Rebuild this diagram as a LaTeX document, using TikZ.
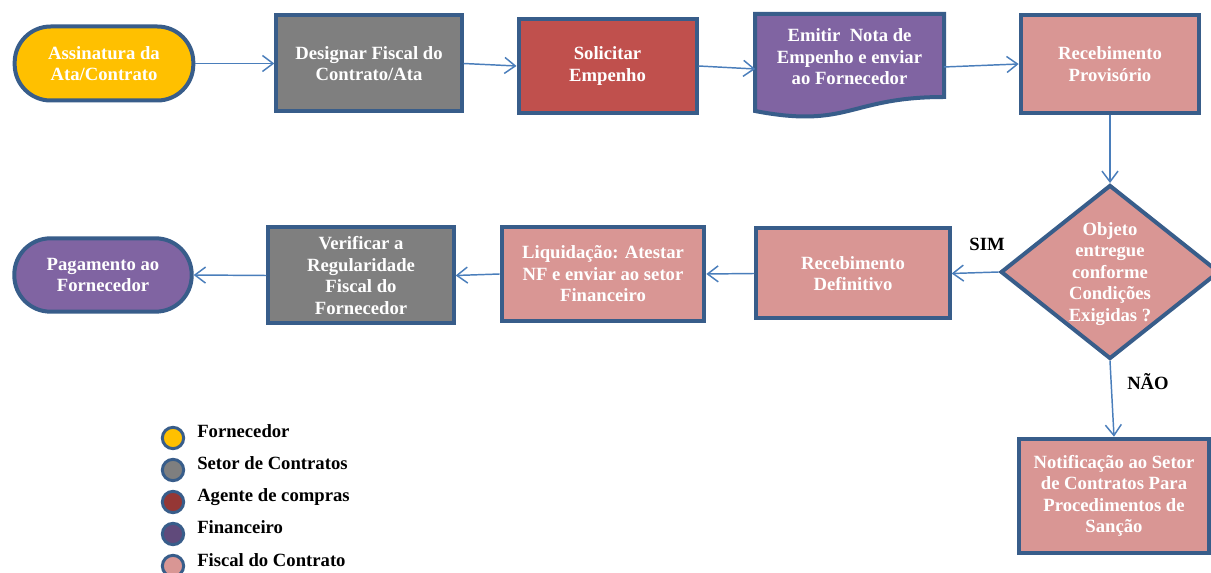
\documentclass[tikz,border=0pt]{standalone}
\usepackage{fontspec}
\setmainfont{Liberation Serif}
\usetikzlibrary{arrows.meta,shapes.geometric}
\definecolor{edgeblue}{HTML}{385D8A}
\definecolor{linkblue}{HTML}{4A7EBB}
\definecolor{cyellow}{HTML}{FFC000}
\definecolor{cgray}{HTML}{7F7F7F}
\definecolor{cred}{HTML}{C0504D}
\definecolor{cpurple}{HTML}{8064A2}
\definecolor{cpink}{HTML}{D99694}
\definecolor{cdarkred}{HTML}{953735}
\definecolor{cdarkpurple}{HTML}{604A7B}
\begin{document}
\begin{tikzpicture}[x=0.75pt,y=-0.75pt,
  every node/.style={font=\fontsize{14}{16.1}\selectfont\bfseries},
  box/.style={draw=edgeblue, line width=3pt, text=white, align=center, inner sep=0pt},
  stadium/.style={box, rounded corners=27pt},
  caption/.style={text=white, align=center, inner sep=0pt},
  link/.style={draw=linkblue, line width=1.1pt, -{Straight Barb[length=8pt,width=12pt]}},
  dot/.style={circle, draw=edgeblue, line width=2.25pt, minimum size=16pt, inner sep=0pt},
  legtext/.style={anchor=base west, inner sep=0pt, text=black},
  answer/.style={text=black, inner sep=0pt}]

  % canvas
  \fill[white] (0,0) rectangle (1211,573);
  \clip (0,0) rectangle (1211,573);

  % first row
  \node[stadium, fill=cyellow, minimum width=134pt, minimum height=55.5pt] (ata) at (104,63.5)
    {Assinatura da\\Ata/Contrato};
  \node[box, fill=cgray, minimum width=139pt, minimum height=72pt] (fiscal) at (369,63.5)
    {Designar Fiscal do\\Contrato/Ata};
  \node[box, fill=cred, minimum width=133.5pt, minimum height=71pt] (solic) at (607.5,66)
    {Solicitar\\Empenho};
  % document shape with a wavy bottom edge
  \draw[draw=edgeblue, line width=3pt, fill=cpurple]
    (755,14) -- (944,14) -- (944,97) .. controls (849,97) and (849,129) .. (755,111) -- cycle;
  \node[caption, minimum width=141pt, minimum height=64.5pt] (emitir) at (849.5,57)
    {Emitir\ \ Nota de\\Empenho e enviar\\ao Fornecedor};
  \node[box, fill=cpink, minimum width=134pt, minimum height=73pt] (provis) at (1110,64)
    {Recebimento\\Provisório};

  % decision
  \node[diamond, draw=edgeblue, line width=3pt, fill=cpink, minimum width=164pt,
        minimum height=130.5pt, inner sep=0pt] (dec) at (1110,272) {};
  \node[caption] (dectxt) at (1110,274)
    {Objeto\\entregue\\conforme\\Condições\\Exigidas ?};

  % second row
  \node[box, fill=cpink, minimum width=145pt, minimum height=67.5pt] (defin) at (853,273.5)
    {Recebimento\\Definitivo};
  \node[box, fill=cpink, minimum width=152pt, minimum height=70pt] (liq) at (603,274)
    {Liquidação: Atestar\\NF e enviar ao setor\\Financeiro};
  \node[box, fill=cgray, minimum width=139pt, minimum height=72pt] (verif) at (361,275.5)
    {Verificar a\\Regularidade\\Fiscal do\\Fornecedor};
  \node[stadium, fill=cpurple, minimum width=133pt, minimum height=55pt] (pag) at (103,275)
    {Pagamento ao\\Fornecedor};

  % rejection branch
  \node[box, fill=cpink, minimum width=142pt, minimum height=86pt] (notif) at (1114,496)
    {Notificação ao Setor\\de Contratos Para\\Procedimentos de\\Sanção};

  \node[answer] (sim) at (987,244) {SIM};
  \node[answer] (nao) at (1148,382) {NÃO};

  % connectors
  \draw[link] (ata.east) -- (fiscal.west);
  \draw[link] (fiscal.east) -- (solic.west);
  \draw[link] (solic.east) -- ([yshift=-9pt]emitir.west);
  \draw[link] ([yshift=-7.5pt]emitir.east) -- (provis.west);
  \draw[link] (provis.south) -- (dec.north);
  \draw[link] (dec.west) -- (defin.east);
  \draw[link] (defin.west) -- (liq.east);
  \draw[link] (liq.west) -- (verif.east);
  \draw[link] (verif.west) -- (pag.east);
  \draw[link] (dec.south) -- (notif.north);

  % legend
  \node[dot, fill=cyellow] (d1) at (173,438) {};
  \node[dot, fill=cgray] (d2) at (173,470) {};
  \node[dot, fill=cdarkred] (d3) at (173,502) {};
  \node[dot, fill=cdarkpurple] (d4) at (173,534) {};
  \node[dot, fill=cpink] (d5) at (173,566) {};
  \node[legtext] (l1) at (197,438) {Fornecedor};
  \node[legtext] (l2) at (197,470) {Setor de Contratos};
  \node[legtext] (l3) at (197,502) {Agente de compras};
  \node[legtext] (l4) at (197,534) {Financeiro};
  \node[legtext] (l5) at (197,566) {Fiscal do Contrato};
\end{tikzpicture}
\end{document}
